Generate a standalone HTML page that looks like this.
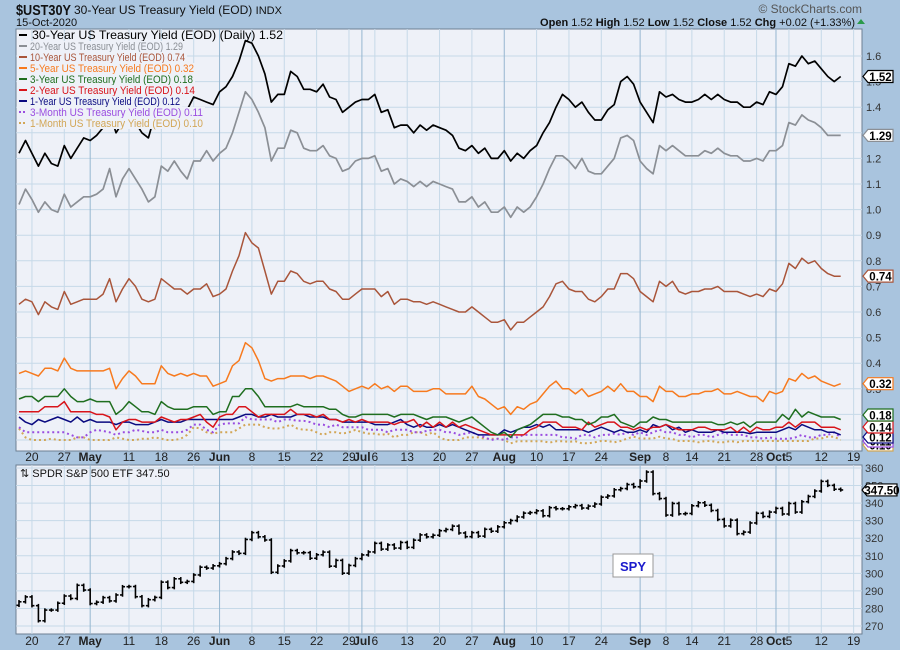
<!DOCTYPE html>
<html><head><meta charset="utf-8">
<style>
html,body{margin:0;padding:0;background:#a9c4de;}
svg{display:block;font-family:"Liberation Sans",sans-serif;}
</style></head>
<body>
<svg id="chart" width="900" height="650" viewBox="0 0 900 650" xmlns="http://www.w3.org/2000/svg">
<rect x="0" y="0" width="900" height="650" fill="#a9c4de"/>
<text x="16" y="15" font-size="15" font-weight="bold" fill="#111" textLength="55" lengthAdjust="spacingAndGlyphs">$UST30Y</text>
<text x="74" y="14" font-size="12" fill="#111">30-Year US Treasury Yield (EOD) <tspan font-size="11">INDX</tspan></text>
<text x="16" y="26" font-size="11" fill="#111">15-Oct-2020</text>
<text x="862" y="13" font-size="12" fill="#555" text-anchor="end">© StockCharts.com</text>
<text x="855" y="26" font-size="11" fill="#111" text-anchor="end"><tspan font-weight="bold">Open</tspan> 1.52  <tspan font-weight="bold">High</tspan> 1.52  <tspan font-weight="bold">Low</tspan> 1.52  <tspan font-weight="bold">Close</tspan> 1.52  <tspan font-weight="bold">Chg</tspan> +0.02 (+1.33%)</text>
<polygon points="857,24 865,24 861,19" fill="#2a9a4a"/>
<rect x="16" y="29" width="846" height="422" fill="#eef1f8" stroke="#6d7f93"/>
<rect x="16" y="465" width="846" height="169" fill="#eef1f8" stroke="#6d7f93"/>
<g id="grid"></g>
<clipPath id="clipTop"><rect x="16" y="29" width="846" height="422"/></clipPath>
<clipPath id="clipBot"><rect x="16" y="465" width="846" height="169"/></clipPath>
<g id="series" clip-path="url(#clipTop)"></g>
<g id="legend"></g>
<g id="spy" clip-path="url(#clipBot)"></g>
<g id="axes"></g>
<g id="tags"></g>
<text x="20" y="477" font-size="11" fill="#111">⇅ SPDR S&amp;P 500 ETF 347.50</text>
<rect x="613" y="554" width="40" height="23" fill="#fff" stroke="#999"/>
<text x="633" y="571" font-size="13" font-weight="bold" fill="#1a1acc" text-anchor="middle">SPY</text>
</svg>
<script>
const y30 = [1.22,1.27,1.22,1.17,1.22,1.18,1.17,1.25,1.20,1.24,1.28,1.27,1.29,1.32,
1.38,1.30,1.34,1.38,1.34,1.30,1.28,1.37,1.36,1.39,1.36,1.33,1.39,1.44,
1.43,1.42,1.41,1.46,1.48,1.52,1.58,1.66,1.65,1.60,1.53,1.42,1.45,1.45,1.54,1.52,1.47,
1.47,1.46,1.49,1.44,1.43,1.38,1.40,1.42,1.43,1.43,1.45,1.38,1.39,1.32,1.33,1.33,1.30,1.33,1.31,1.33,1.32,1.31,1.29,1.24,1.23,1.25,1.22,1.24,1.20,1.20,1.23,1.19,1.22,1.20,1.23,1.25,1.30,1.34,1.40,1.45,1.43,1.40,
1.42,1.38,1.35,1.35,1.39,1.41,1.50,1.52,1.49,1.42,1.38,1.34,1.46,1.44,1.45,1.43,1.42,1.42,1.43,1.45,1.43,1.45,1.43,1.42,1.42,1.40,1.40,1.42,1.41,1.46,1.45,1.48,1.57,1.56,1.60,1.57,1.58,1.55,1.52,1.50,1.52];
const y20 = [1.02,1.08,1.04,0.99,1.03,1.00,0.99,1.06,1.01,1.03,1.05,1.05,1.06,1.08,
1.16,1.05,1.12,1.16,1.12,1.08,1.03,1.05,1.17,1.15,1.19,1.15,1.12,1.19,
1.19,1.23,1.19,1.22,1.24,1.30,1.38,1.46,1.43,1.38,1.32,1.19,1.24,1.24,1.31,1.30,1.24,
1.23,1.23,1.25,1.21,1.20,1.15,1.16,1.19,1.20,1.20,1.21,1.15,1.16,1.10,1.12,1.11,1.09,1.11,1.09,1.11,1.10,1.09,1.08,1.03,1.03,1.05,1.01,1.03,0.99,0.99,1.01,0.97,1.01,0.99,1.01,1.05,1.10,1.16,1.21,1.21,1.19,1.16,
1.20,1.15,1.14,1.14,1.17,1.20,1.28,1.29,1.27,1.19,1.16,1.14,1.25,1.23,1.25,1.23,1.21,1.21,1.21,1.23,1.22,1.24,1.22,1.21,1.21,1.19,1.19,1.20,1.19,1.23,1.23,1.25,1.34,1.33,1.37,1.35,1.34,1.32,1.29,1.29,1.29];
const y10 = [0.63,0.65,0.64,0.59,0.64,0.62,0.61,0.68,0.63,0.64,0.65,0.65,0.65,0.67,
0.73,0.64,0.69,0.73,0.70,0.65,0.64,0.65,0.73,0.71,0.69,0.69,0.67,0.69,
0.69,0.71,0.66,0.67,0.69,0.76,0.82,0.91,0.87,0.85,0.76,0.67,0.72,0.72,0.76,0.75,0.72,
0.71,0.72,0.72,0.69,0.68,0.65,0.65,0.67,0.69,0.69,0.69,0.66,0.68,0.63,0.65,0.65,0.64,0.64,0.63,0.64,0.63,0.62,0.61,0.60,0.60,0.62,0.60,0.58,0.56,0.56,0.57,0.53,0.56,0.56,0.58,0.60,0.62,0.66,0.71,0.72,0.69,0.68,
0.68,0.65,0.64,0.66,0.69,0.69,0.75,0.75,0.73,0.68,0.66,0.64,0.72,0.70,0.72,0.68,0.67,0.68,0.68,0.69,0.69,0.70,0.68,0.68,0.68,0.67,0.66,0.67,0.66,0.69,0.68,0.71,0.79,0.77,0.81,0.79,0.80,0.77,0.75,0.74,0.74];
const y5 = [0.36,0.37,0.36,0.35,0.38,0.38,0.37,0.42,0.38,0.37,0.37,0.37,0.37,0.37,0.38,0.30,0.34,0.37,0.35,0.32,0.32,0.32,0.39,0.36,0.35,0.36,0.35,0.36,0.35,0.35,0.31,0.32,0.33,0.39,0.41,0.48,0.46,0.41,0.34,0.33,0.34,0.34,0.35,0.35,0.35,
0.34,0.35,0.35,0.34,0.33,0.31,0.29,0.30,0.31,0.30,0.32,0.30,0.31,0.29,0.31,0.31,0.29,0.29,0.29,0.30,0.30,0.28,0.28,0.28,0.28,0.31,0.27,0.26,0.24,0.22,0.23,0.20,0.23,0.22,0.24,0.25,0.28,0.31,0.33,0.30,0.30,0.28,
0.30,0.27,0.28,0.29,0.31,0.29,0.32,0.29,0.29,0.27,0.27,0.25,0.31,0.29,0.29,0.27,0.27,0.28,0.28,0.29,0.29,0.30,0.28,0.28,0.29,0.28,0.27,0.27,0.25,0.29,0.28,0.29,0.34,0.33,0.36,0.34,0.35,0.33,0.32,0.31,0.32];
const y3 = [0.26,0.27,0.27,0.25,0.27,0.27,0.27,0.30,0.27,0.25,0.25,0.26,0.25,0.25,0.25,0.20,0.22,0.25,0.23,0.21,0.21,0.20,0.25,0.23,0.22,0.22,0.22,0.23,0.23,0.23,0.20,0.21,0.21,0.27,0.27,0.30,0.30,0.27,0.23,0.23,0.23,0.23,0.23,0.24,0.23,
0.23,0.23,0.23,0.22,0.22,0.20,0.19,0.19,0.20,0.20,0.20,0.20,0.20,0.19,0.20,0.20,0.20,0.19,0.18,0.19,0.19,0.19,0.18,0.17,0.18,0.19,0.17,0.15,0.13,0.12,0.13,0.11,0.14,0.15,0.16,0.18,0.20,0.20,0.20,0.19,0.19,0.18,
0.18,0.16,0.17,0.19,0.19,0.20,0.17,0.16,0.15,0.17,0.17,0.19,0.18,0.18,0.17,0.17,0.17,0.17,0.17,0.17,0.17,0.16,0.16,0.17,0.16,0.17,0.15,0.17,0.17,0.17,0.17,0.20,0.18,0.22,0.19,0.21,0.20,0.19,0.19,0.19,0.18];
const y2 = [0.21,0.21,0.21,0.21,0.23,0.23,0.23,0.25,0.21,0.21,0.21,0.21,0.20,0.20,0.19,0.14,0.17,0.18,0.18,0.17,0.17,0.17,0.19,0.18,0.17,0.18,0.18,0.19,0.20,0.17,0.15,0.19,0.20,0.20,0.23,0.23,0.21,0.19,0.20,0.20,0.20,0.20,0.22,0.20,0.20,
0.20,0.19,0.20,0.18,0.18,0.17,0.18,0.17,0.18,0.17,0.17,0.17,0.17,0.16,0.17,0.17,0.18,0.15,0.17,0.15,0.17,0.15,0.17,0.15,0.16,0.15,0.14,0.13,0.12,0.12,0.12,0.12,0.12,0.12,0.14,0.15,0.17,0.17,0.17,0.15,0.15,0.15,
0.14,0.17,0.15,0.16,0.17,0.17,0.15,0.15,0.14,0.15,0.14,0.15,0.15,0.16,0.15,0.14,0.14,0.14,0.15,0.15,0.14,0.14,0.14,0.15,0.13,0.15,0.13,0.15,0.14,0.14,0.15,0.15,0.17,0.15,0.17,0.17,0.17,0.15,0.15,0.15,0.14];
const y1 = [0.19,0.17,0.16,0.18,0.17,0.18,0.19,0.18,0.17,0.19,0.17,0.18,0.17,0.17,0.17,0.16,0.17,0.17,0.16,0.16,0.16,0.17,0.18,0.17,0.17,0.17,0.18,0.18,0.18,0.18,0.18,0.18,0.18,0.18,0.19,0.20,0.20,0.19,0.19,0.20,0.19,0.19,0.19,0.20,0.20,
0.19,0.19,0.19,0.18,0.18,0.17,0.17,0.17,0.17,0.17,0.16,0.16,0.16,0.17,0.18,0.16,0.15,0.16,0.15,0.15,0.16,0.15,0.16,0.15,0.14,0.13,0.12,0.12,0.12,0.12,0.14,0.13,0.14,0.15,0.15,0.16,0.15,0.16,0.14,0.14,0.14,0.14,
0.14,0.13,0.14,0.15,0.14,0.13,0.14,0.13,0.13,0.14,0.13,0.16,0.15,0.16,0.14,0.15,0.13,0.14,0.13,0.13,0.13,0.14,0.13,0.13,0.13,0.13,0.125,0.13,0.13,0.13,0.13,0.14,0.15,0.14,0.16,0.15,0.14,0.14,0.13,0.13,0.12];
const m3 = [0.15,0.13,0.13,0.13,0.13,0.13,0.13,0.13,0.12,0.11,0.11,0.13,0.14,0.135,0.13,0.12,0.13,0.13,0.14,0.135,0.13,0.13,0.14,0.13,0.13,0.13,0.14,0.16,0.16,0.14,0.13,0.16,0.165,0.165,0.165,0.19,0.18,0.18,0.18,0.18,0.17,0.18,0.18,0.175,0.175,
0.17,0.16,0.16,0.15,0.16,0.15,0.15,0.15,0.15,0.14,0.14,0.14,0.13,0.14,0.14,0.14,0.13,0.13,0.135,0.14,0.14,0.13,0.13,0.12,0.125,0.13,0.12,0.11,0.10,0.105,0.10,0.11,0.11,0.12,0.12,0.12,0.12,0.12,0.12,0.11,0.11,0.105,
0.12,0.12,0.11,0.12,0.12,0.125,0.12,0.13,0.12,0.13,0.12,0.13,0.14,0.13,0.13,0.12,0.12,0.11,0.12,0.12,0.11,0.12,0.13,0.12,0.12,0.12,0.11,0.11,0.105,0.11,0.105,0.105,0.105,0.11,0.12,0.11,0.11,0.12,0.12,0.13,0.11];
const m1 = [0.145,0.11,0.10,0.10,0.10,0.105,0.10,0.10,0.10,0.11,0.11,0.10,0.10,0.10,0.10,0.11,0.105,0.10,0.10,0.105,0.105,0.11,0.105,0.10,0.10,0.105,0.12,0.15,0.145,0.13,0.125,0.13,0.13,0.13,0.145,0.16,0.16,0.16,0.15,0.145,0.145,0.15,0.16,0.145,0.14,
0.14,0.13,0.12,0.13,0.13,0.125,0.13,0.14,0.13,0.125,0.125,0.12,0.125,0.11,0.12,0.12,0.13,0.13,0.12,0.13,0.11,0.10,0.10,0.10,0.11,0.11,0.11,0.105,0.105,0.105,0.10,0.087,0.095,0.095,0.095,0.095,0.095,0.09,0.095,0.095,0.093,0.095,
0.087,0.087,0.091,0.096,0.096,0.091,0.096,0.106,0.113,0.106,0.106,0.106,0.113,0.106,0.104,0.096,0.096,0.096,0.091,0.096,0.096,0.091,0.091,0.096,0.091,0.096,0.096,0.096,0.096,0.096,0.096,0.096,0.096,0.096,0.096,0.096,0.106,0.106,0.113,0.113,0.10];
const spyClose = [283.8,286.6,281.6,273.0,279.1,279.1,283.0,
287.1,285.7,293.2,290.5,282.8,283.6,286.2,284.3,287.7,292.4,
292.5,286.7,281.6,285.0,286.3,295.0,291.9,296.9,294.9,295.4,
299.1,303.5,303.0,304.3,305.5,308.4,312.2,311.4,319.3,
323.2,320.8,319.0,300.6,304.2,307.1,313.0,311.7,311.8,308.6,
310.6,312.1,304.1,307.4,300.1,304.5,308.4,310.5,312.2,
317.1,313.8,316.2,314.4,317.6,314.8,318.9,321.9,320.8,321.7,
324.3,325.0,326.9,323.0,320.9,323.2,321.2,325.1,324.0,326.5,
328.8,330.1,332.1,334.3,334.6,335.6,332.8,337.4,336.8,336.8,
337.9,338.6,337.2,338.3,339.5,343.4,344.1,347.6,348.3,350.6,
349.3,352.6,357.7,345.4,342.6,333.2,339.8,333.9,334.1,
338.5,340.2,338.8,335.8,330.7,327.0,330.3,322.6,323.5,328.7,
334.2,332.4,334.9,337.0,333.8,339.8,334.9,340.8,343.8,346.9,
352.4,350.1,347.9,347.5];
const xTickIdx = [2,7,11,17,22,27,31,36,41,46,51,53,55,60,65,70,75,80,85,90,96,100,104,109,114,117,119,124,129];
const xTickLbl = ['20','27','May','11','18','26','Jun','8','15','22','29','Jul','6','13','20','27','Aug','10','17','24','Sep','8','14','21','28','Oct','5','12','19'];
const yTopTicks = [1.6,1.5,1.4,1.3,1.2,1.1,1.0,0.9,0.8,0.7,0.6,0.5,0.4,0.3,0.2];
const yBotTicks = [360,350,340,330,320,310,300,290,280,270];
const seriesNames = ['30-Year US Treasury Yield (EOD) (Daily) 1.52','20-Year US Treasury Yield (EOD) 1.29','10-Year US Treasury Yield (EOD) 0.74','5-Year US Treasury Yield (EOD) 0.32','3-Year US Treasury Yield (EOD) 0.18','2-Year US Treasury Yield (EOD) 0.14','1-Year US Treasury Yield (EOD) 0.12','3-Month US Treasury Yield (EOD) 0.11','1-Month US Treasury Yield (EOD) 0.10'];
const lastVals = ['1.52','1.29','0.74','0.32','0.18','0.14','0.12','0.11','0.10'];

const NS = 'http://www.w3.org/2000/svg';
const xS = k => 19 + k * 6.47;
const yT = v => 56 + (1.6 - v) * 256;
const yB = p => 468 + (360 - p) * 1.756;
function mk(tag, attrs, parent) {
  const el = document.createElementNS(NS, tag);
  for (const a in attrs) el.setAttribute(a, attrs[a]);
  parent.appendChild(el);
  return el;
}
const grid = document.getElementById('grid');
const axes = document.getElementById('axes');
const monthLbls = ['May','Jun','Jul','Aug','Sep','Oct'];

yTopTicks.concat([0.1]).forEach(v => {
  const l = mk('line', {x1:16, x2:862, y1:yT(v), y2:yT(v), stroke:'#c6d9e8', 'stroke-width':1}, grid);
  
  
});
yBotTicks.forEach(p => {
  const l = mk('line', {x1:16, x2:862, y1:yB(p), y2:yB(p), stroke:'#c6d9e8', 'stroke-width':1}, grid);
  
  
});
xTickIdx.forEach((k, i) => {
  const x = xS(k);
  const isMonth = monthLbls.includes(xTickLbl[i]);
  const col = isMonth ? '#95b6d0' : '#c6d9e8';
  if (x < 862) {
    const a = mk('line', {x1:x, x2:x, y1:29, y2:451, stroke:col, 'stroke-width':1}, grid);
    
    
    const b = mk('line', {x1:x, x2:x, y1:465, y2:634, stroke:col, 'stroke-width':1}, grid);
    
    
  }
  [461, 645].forEach((ty, j) => {
    const t = mk('text', {x:x, y:ty, 'font-size':12, 'text-anchor':'middle', fill:'#222', 'font-weight': isMonth ? 'bold' : 'normal'}, axes);
    t.textContent = xTickLbl[i];
    
    
  });
});
yTopTicks.forEach(v => {
  const t = mk('text', {x:866, y:yT(v) + 4, 'font-size':11, fill:'#333'}, axes);
  t.textContent = v.toFixed(1);
  
  
});
yBotTicks.forEach(p => {
  const t = mk('text', {x:865, y:yB(p) + 4, 'font-size':11, fill:'#333'}, axes);
  t.textContent = String(p);
  
  
});

const seriesG = document.getElementById('series');
const seriesDefs = [
  {d:m1, c:'#d2a656', dash:'2,3', w:2, n:'one-month-yield-line'},
  {d:m3, c:'#9a4de0', dash:'2,3', w:2, n:'three-month-yield-line'},
  {d:y1, c:'#0a0a80', dash:'', w:1.5, n:'one-year-yield-line'},
  {d:y2, c:'#d8141a', dash:'', w:1.5, n:'two-year-yield-line'},
  {d:y3, c:'#1f6e1f', dash:'', w:1.5, n:'three-year-yield-line'},
  {d:y5, c:'#f77a1e', dash:'', w:1.5, n:'five-year-yield-line'},
  {d:y10, c:'#a9553a', dash:'', w:1.5, n:'ten-year-yield-line'},
  {d:y20, c:'#8b8f95', dash:'', w:1.7, n:'twenty-year-yield-line'},
  {d:y30, c:'#000000', dash:'', w:1.7, n:'thirty-year-yield-line'}
];
seriesDefs.forEach(s => {
  const pts = s.d.map((v, k) => xS(k).toFixed(1) + ',' + yT(v).toFixed(1)).join(' ');
  const p = mk('polyline', {points:pts, fill:'none', stroke:s.c, 'stroke-width':s.w, 'stroke-linejoin':'round'}, seriesG);
  if (s.dash) p.setAttribute('stroke-dasharray', s.dash);
  
  
});

const legend = document.getElementById('legend');
const legCols = ['#000','#8b8f95','#a9553a','#f77a1e','#1f6e1f','#d8141a','#0a0a80','#9a4de0','#d2a656'];
const legEnds = [283,183,185,194,193,195,180,203,203];
seriesNames.forEach((nm, i) => {
  const cy = 35 + i * 11;
  const start = i === 0 ? 32 : 30;
  if (i > 0) {
    const bg = mk('rect', {x:17, y:cy - 5, width:legEnds[i] - 15, height:11, fill:'#eef1f8'}, legend);
    
    
  }
  const mark = mk('line', {x1:19, x2:27, y1:cy, y2:cy, stroke:legCols[i], 'stroke-width':2}, legend);
  if (i >= 7) mark.setAttribute('stroke-dasharray', '2,2');
  
  
  const t = mk('text', {x:start, y:cy + 4, 'font-size': i === 0 ? 12 : 11, fill:legCols[i], textLength:legEnds[i] - start, lengthAdjust:'spacingAndGlyphs'}, legend);
  t.textContent = nm;
  
  
});

const tags = document.getElementById('tags');
const tagY = [yT(1.52), yT(1.29), yT(0.74), yT(0.32), 415, 427, 437, 441, 445];
const tagBorder = ['#000','#8b8f95','#a9553a','#f77a1e','#1f6e1f','#d8141a','#0a0a80','#9a4de0','#d2a656'];
for (let i = 8; i >= 0; i--) {
  const y = tagY[i];
  const poly = mk('polygon', {points:`863,${y} 868,${y-6} 893,${y-6} 893,${y+6} 868,${y+6}`, fill:'#fff', stroke:tagBorder[i], 'stroke-width':1.2}, tags);
  
  
  const t = mk('text', {x:880.5, y:y + 4.5, 'font-size':11.5, 'font-weight':'bold', fill:'#000', 'text-anchor':'middle'}, tags);
  t.textContent = lastVals[i];
  
  
}
{
  const y = yB(347.5);
  const poly = mk('polygon', {points:`862,${y} 867,${y-6} 897,${y-6} 897,${y+6} 867,${y+6}`, fill:'#fff', stroke:'#000', 'stroke-width':1.2}, tags);
  
  
  const t = mk('text', {x:882, y:y + 4.5, 'font-size':11.5, 'font-weight':'bold', fill:'#000', 'text-anchor':'middle'}, tags);
  t.textContent = '347.50';
  
  
}

const spyG = document.getElementById('spy');
spyClose.forEach((c, k) => {
  const o = k === 0 ? c - 2 : spyClose[k - 1];
  const hi = Math.max(o, c) + 1, lo = Math.min(o, c) - 1;
  const x = xS(k);
  const g = mk('g', {stroke:'#000', 'stroke-width':1.6}, spyG);
  
  
  mk('line', {x1:x, x2:x, y1:yB(hi), y2:yB(lo)}, g);
  mk('line', {x1:x - 2.5, x2:x, y1:yB(o), y2:yB(o)}, g);
  mk('line', {x1:x, x2:x + 2.5, y1:yB(c), y2:yB(c)}, g);
});
</script>
</body></html>
